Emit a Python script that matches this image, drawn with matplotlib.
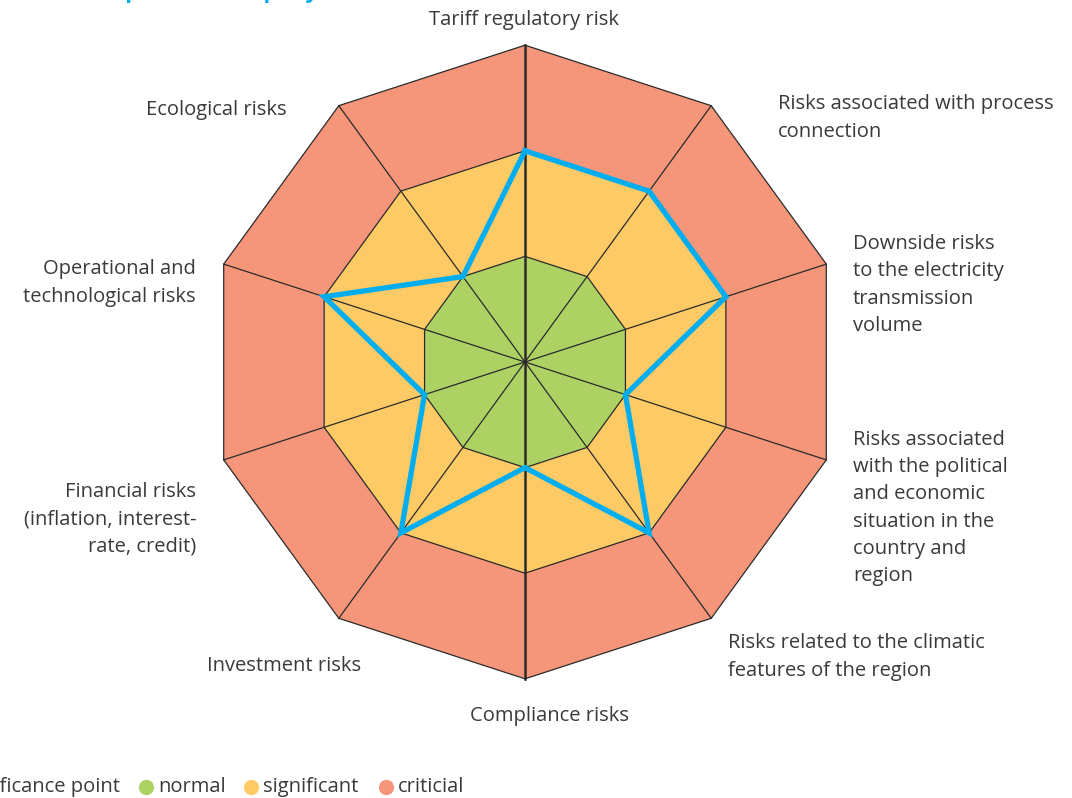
import numpy as np
import matplotlib
matplotlib.use("Agg")
import matplotlib.pyplot as plt
from matplotlib.patches import Polygon

plt.rcParams['font.family'] = ['Open Sans', 'DejaVu Sans']

# ---- data ----
categories = [
    "Tariff regulatory risk",
    "Risks associated with process\nconnection",
    "Downside risks\nto the electricity\ntransmission\nvolume",
    "Risks associated\nwith the political\nand economic\nsituation in the\ncountry and\nregion",
    "Risks related to the climatic\nfeatures of the region",
    "Compliance risks",
    "Investment risks",
    "Financial risks\n(inflation, interest-\nrate, credit)",
    "Operational and\ntechnological risks",
    "Ecological risks",
]
values = [2, 2, 2, 1, 2, 1, 2, 1, 2, 1]
level_names = ["normal", "significant", "criticial"]
level_values = [1, 2, 3]
level_colors = ["#ADD163", "#FDCA65", "#F5967A"]
title = "Risk map of the company"

# ---- layout ----
W, H = 1072, 798
fig = plt.figure(figsize=(W / 100, H / 100), dpi=100)
ax = fig.add_axes([0, 0, 1, 1])
ax.set_xlim(0, W)
ax.set_ylim(H, 0)
ax.axis("off")

cx, cy = 525, 362
unit = 105.6
n = len(categories)
ang = np.deg2rad(90 - 360 / n * np.arange(n))

def pts(r):
    r = np.broadcast_to(np.asarray(r, float), (n,))
    return np.column_stack([cx + r * unit * np.cos(ang), cy - r * unit * np.sin(ang)])

edge = "#2b2b2b"
for lv, col in reversed(list(zip(level_values, level_colors))):
    ax.add_patch(Polygon(pts(lv), closed=True, facecolor=col, edgecolor=edge, lw=0.9, zorder=1))

outer = pts(level_values[-1])
for i, (x, y) in enumerate(outer):
    ax.plot([cx, x], [cy, y], color=edge, lw=1.8 if i in (0, 5) else 0.9, zorder=2)

vp = pts(values)
vp = np.vstack([vp, vp[:1]])
ax.plot(vp[:, 0], vp[:, 1], color="#00AEEF", lw=3.8, solid_joinstyle="miter", zorder=3)

# ---- labels ----
txt = dict(fontsize=14.5, color="#3a3a3a", linespacing=1.47)
label_pos = [
    (524, 20, "center"),
    (778, 118, "left"),
    (853, 285, "left"),
    (853, 508, "left"),
    (728, 657, "left"),
    (549, 716, "center"),
    (361, 666, "right"),
    (196, 519, "right"),
    (196, 283, "right"),
    (287, 110, "right"),
]
for lab, (x, y, ha) in zip(categories, label_pos):
    ma = "right" if ha == "right" else "left"
    ax.text(x, y, lab, ha=ha, va="center", multialignment=ma, **txt)

# ---- title (cropped at top edge, as in the source) ----
ax.text(318, -2, title, ha="right", va="baseline", fontsize=16, fontweight="bold", color="#00AEEF")

# ---- legend ----
ly = 787
ax.text(120, ly, "Significance point", ha="right", va="center", **txt)
leg_x = [146, 251, 386]
for x, name, col in zip(leg_x, level_names, level_colors):
    ax.plot([x], [ly], "o", ms=11, color=col, mec="none", clip_on=False)
    ax.text(x + 12, ly, name, ha="left", va="center", **txt)

fig.savefig("out.png", dpi=100)
